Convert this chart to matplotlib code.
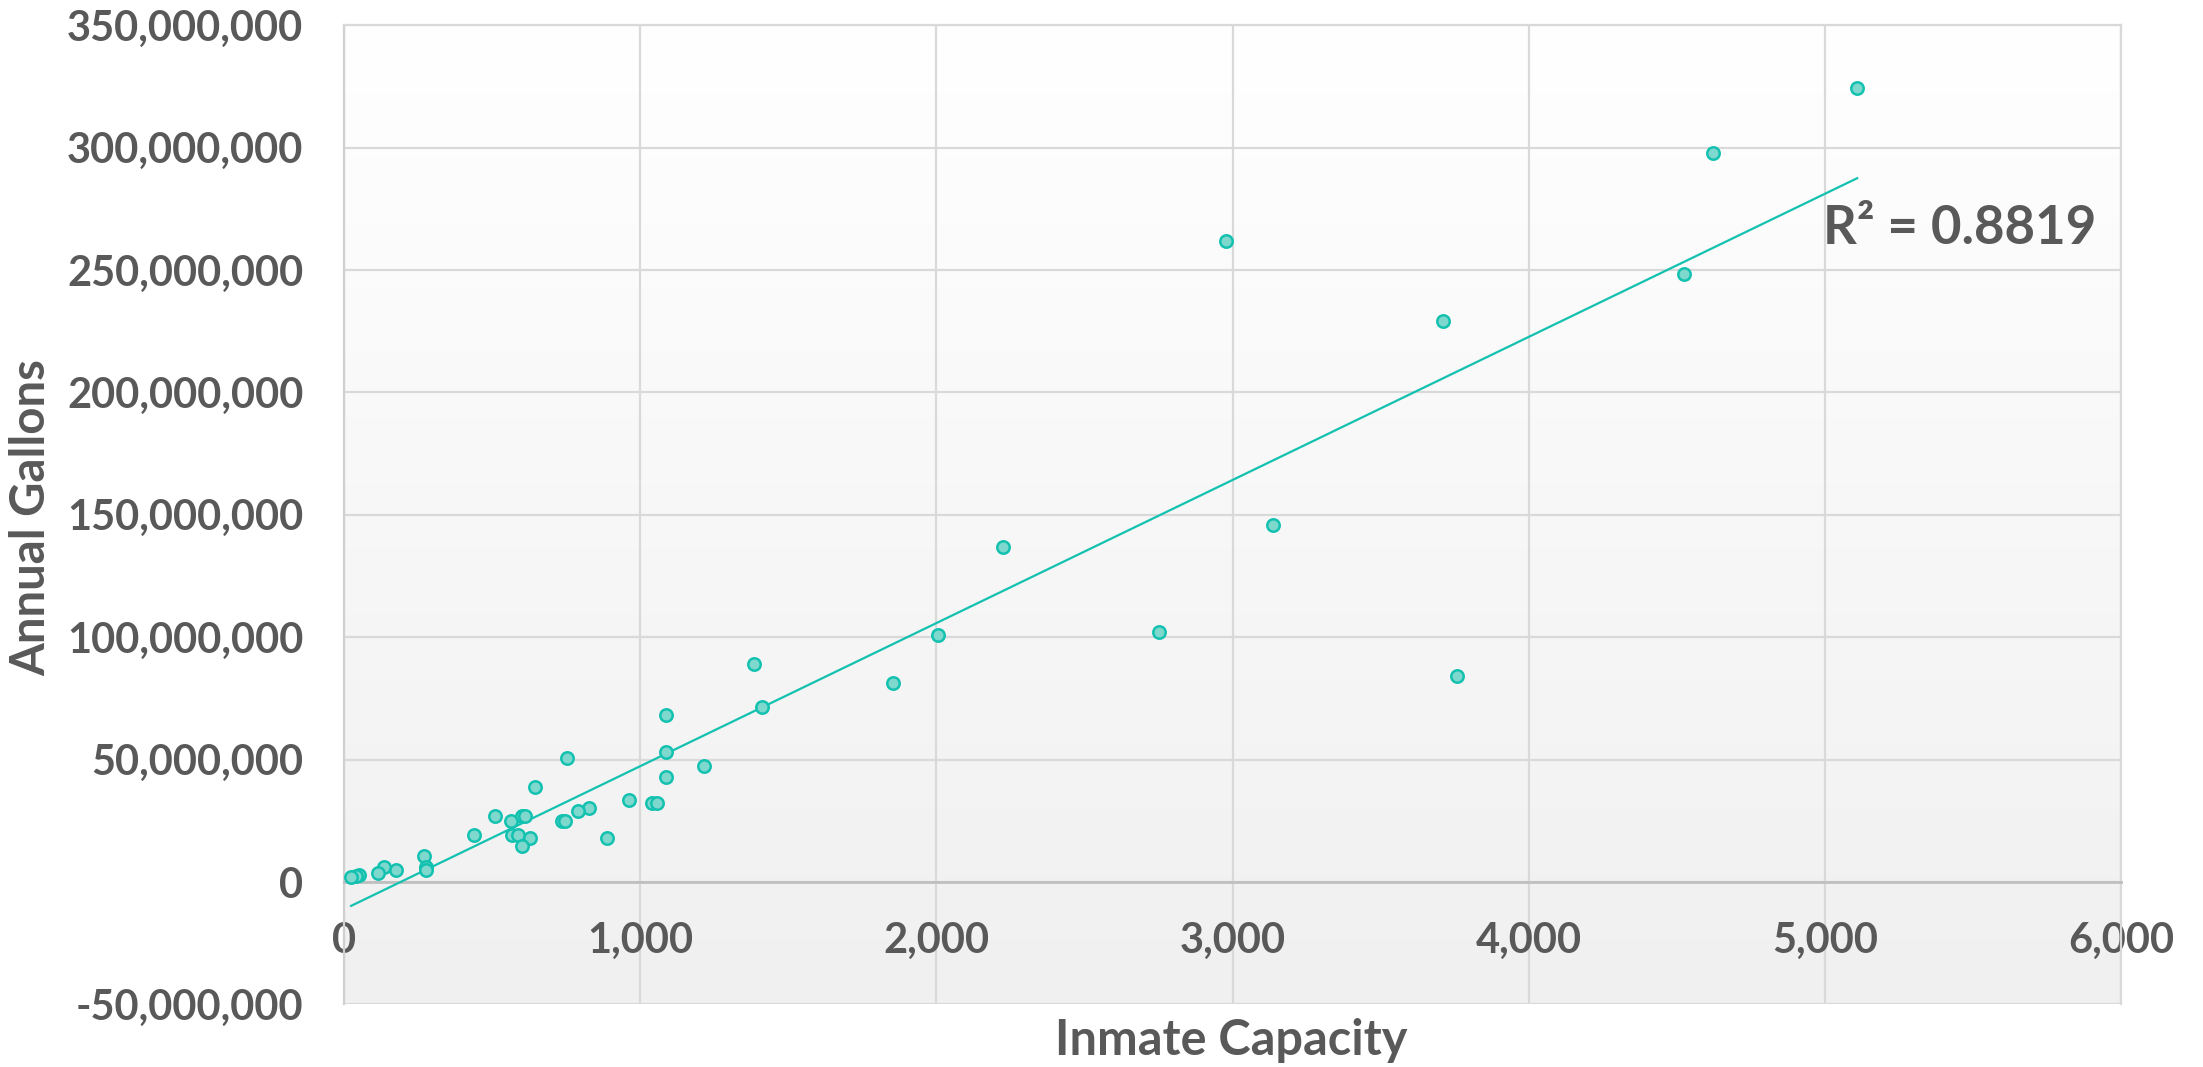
import numpy as np
import matplotlib
matplotlib.use("Agg")
import matplotlib.pyplot as plt
from matplotlib.ticker import FuncFormatter, MultipleLocator
from matplotlib.colors import LinearSegmentedColormap

# inmate capacity vs annual gallons (millions)
capacity = [5108, 4620, 4525, 3709, 2979, 3135, 3756, 2751, 2224, 2006, 1853,
            1385, 1412, 1089, 1089, 1089, 1215, 754, 647, 962, 1041, 1056, 827,
            791, 737, 746, 890, 512, 566, 601, 613, 569, 587, 630, 602, 439,
            270, 279, 277, 178, 135, 116, 52, 43, 25]
gallons_m = [324.2, 298.0, 248.5, 229.0, 262.0, 146.0, 84.0, 102.0, 137.0, 100.9,
             81.3, 89.0, 71.5, 68.2, 53.1, 43.1, 47.5, 50.8, 38.9, 33.5, 32.3,
             32.3, 30.2, 29.1, 24.8, 24.8, 18.2, 26.8, 24.8, 26.8, 27.0, 19.3,
             19.3, 18.2, 14.8, 19.2, 10.6, 6.1, 5.0, 5.0, 6.1, 3.9, 3.0, 2.4, 1.9]
r2_label = "R² = 0.8819"
xlabel = "Inmate Capacity"
ylabel = "Annual Gallons"

txt = '#595959'
teal = '#13c1b0'
plt.rcParams['font.family'] = ['Lato', 'DejaVu Sans']
plt.rcParams['font.weight'] = 'bold'

x = np.array(capacity, dtype=float)
y = np.array(gallons_m) * 1e6

fig = plt.figure(figsize=(22.03, 10.67), dpi=100)
ax = fig.add_axes([0.156, 0.0586, 0.807, 0.9177])

# plot area gradient, white at top to light grey at bottom
grad = np.linspace(0, 1, 256).reshape(-1, 1)
cmap = LinearSegmentedColormap.from_list('bg', ['#ffffff', '#f0f0f0'])
ax.imshow(grad, extent=[0, 6000, -50e6, 350e6], cmap=cmap, aspect='auto',
          zorder=0, origin='upper')

ax.set_xlim(0, 6000)
ax.set_ylim(-50e6, 350e6)
ax.xaxis.set_major_locator(MultipleLocator(1000))
ax.yaxis.set_major_locator(MultipleLocator(50e6))
ax.grid(True, color='#d9d9d9', linewidth=1.6, zorder=1)
ax.set_axisbelow(True)

ax.scatter(x, y, s=80, facecolor='#7fd8cd', edgecolor=teal, linewidth=1.8, zorder=4)

coef = np.polyfit(x, y, 1)
xl = np.array([x.min(), x.max()])
ax.plot(xl, np.polyval(coef, xl), color=teal, linewidth=1.6, zorder=3)

ax.spines['bottom'].set_position(('data', 0))
ax.spines['bottom'].set_color('#bfbfbf')
ax.spines['bottom'].set_linewidth(2)
ax.spines['left'].set_color('#d0d0d0')
ax.spines['left'].set_linewidth(1.6)
for s in ['top', 'right']:
    ax.spines[s].set_color('#d9d9d9')
    ax.spines[s].set_linewidth(1.6)

ax.xaxis.set_major_formatter(FuncFormatter(lambda v, p: f'{v:,.0f}'))
ax.yaxis.set_major_formatter(FuncFormatter(lambda v, p: f'{v:,.0f}'))
ax.tick_params(axis='both', length=0, labelsize=30, labelcolor=txt)
ax.tick_params(axis='x', pad=29)
ax.tick_params(axis='y', pad=29)

fig.text(0.014, 0.515, ylabel, rotation=90, ha='center', va='center',
         fontsize=34, color=txt, fontweight='bold')
fig.text(0.559, 0.025, xlabel, ha='center', va='center',
         fontsize=35, color=txt, fontweight='bold')
ax.text(0.832, 0.792, r2_label, transform=ax.transAxes, ha='left', va='center',
        fontsize=38, color=txt, fontweight='bold', zorder=5)

fig.savefig('out.png', dpi=100)
